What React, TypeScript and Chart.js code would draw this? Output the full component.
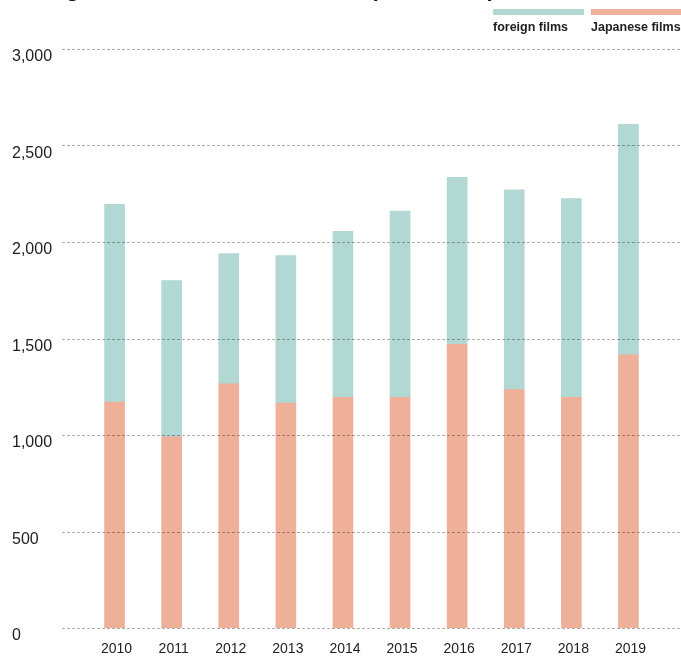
import React, { useEffect, useRef } from 'react';
import { Chart, registerables } from 'chart.js';

Chart.register(...registerables);

const years = ['2010', '2011', '2012', '2013', '2014', '2015', '2016', '2017', '2018', '2019'];
const japaneseFilms = [1170, 990, 1265, 1165, 1195, 1195, 1470, 1235, 1195, 1415];
const foreignFilms = [1025, 810, 675, 765, 860, 965, 865, 1035, 1030, 1195];
const yTickValues = [0, 500, 1000, 1500, 2000, 2500, 3000];

const TEAL = '#b1d8d2';
const SALMON = '#efb099';
const FONT = '"Liberation Sans", Arial, Helvetica, sans-serif';

const fullGridPlugin = {
  id: 'fullGrid',
  afterDatasetsDraw(chart: any) {
    const { ctx } = chart;
    const y = chart.scales.y;
    ctx.save();
    ctx.setLineDash([3, 2]);
    ctx.strokeStyle = 'rgba(0,0,0,0.32)';
    ctx.lineWidth = 1;
    yTickValues.forEach((v) => {
      const py = Math.round(y.getPixelForValue(v)) + 0.5;
      ctx.beginPath();
      ctx.moveTo(62, py);
      ctx.lineTo(chart.width, py);
      ctx.stroke();
    });
    ctx.restore();
  },
};

export default function App() {
  const canvasRef = useRef<HTMLCanvasElement | null>(null);

  useEffect(() => {
    if (!canvasRef.current) return;
    const chart = new Chart(canvasRef.current, {
      type: 'bar',
      data: {
        labels: years,
        datasets: [
          {
            label: 'Japanese films',
            data: japaneseFilms,
            backgroundColor: SALMON,
            barThickness: 20,
          },
          {
            label: 'foreign films',
            data: foreignFilms,
            backgroundColor: TEAL,
            barThickness: 20,
          },
        ],
      },
      options: {
        responsive: false,
        animation: false,
        layout: { padding: { top: 49, left: 12, right: 24, bottom: 0 } },
        plugins: {
          legend: { display: false },
          tooltip: { enabled: false },
          title: { display: false },
        },
        scales: {
          x: {
            stacked: true,
            grid: { display: false, drawTicks: false },
            border: { display: false },
            ticks: {
              color: '#222',
              font: { family: FONT, size: 14 },
              padding: 13,
              labelOffset: 2,
              maxRotation: 0,
            },
            afterFit: (scale: any) => {
              scale.height = 29;
            },
          },
          y: {
            stacked: true,
            min: 0,
            max: 3000,
            grid: { display: false, drawTicks: false },
            border: { display: false },
            ticks: {
              stepSize: 500,
              color: '#222',
              font: { family: FONT, size: 16 },
              crossAlign: 'far',
              labelOffset: 8,
              padding: 0,
              callback: (v: any) => Number(v).toLocaleString('en-US'),
            },
            afterFit: (scale: any) => {
              scale.width = 74;
            },
          },
        },
      },
      plugins: [fullGridPlugin],
    });
    return () => chart.destroy();
  }, []);

  return (
    <div style={{ position: 'fixed', left: 0, top: 0, width: 681, height: 657, overflow: 'hidden', background: '#fff' }}>
      <div
        style={{
          position: 'absolute',
          left: 11,
          top: -22,
          fontFamily: FONT,
          fontWeight: 'bold',
          fontSize: 22,
          lineHeight: '22px',
          color: '#111',
          whiteSpace: 'nowrap',
        }}
      >
        Change in number of films shown (2010–2019)
      </div>
      <canvas ref={canvasRef} width={681} height={657} style={{ display: 'block', width: 681, height: 657 }} />
      <div style={{ position: 'absolute', left: 493, top: 9, width: 91, height: 6, background: TEAL }} />
      <div style={{ position: 'absolute', left: 591, top: 9, width: 90, height: 6, background: SALMON }} />
      <div
        style={{
          position: 'absolute',
          left: 493,
          top: 20,
          fontFamily: FONT,
          fontWeight: 'bold',
          fontSize: 12.5,
          lineHeight: '14px',
          color: '#222',
          whiteSpace: 'nowrap',
        }}
      >
        foreign films
      </div>
      <div
        style={{
          position: 'absolute',
          left: 591,
          top: 20,
          fontFamily: FONT,
          fontWeight: 'bold',
          fontSize: 12.5,
          lineHeight: '14px',
          color: '#222',
          whiteSpace: 'nowrap',
        }}
      >
        Japanese films
      </div>
    </div>
  );
}
